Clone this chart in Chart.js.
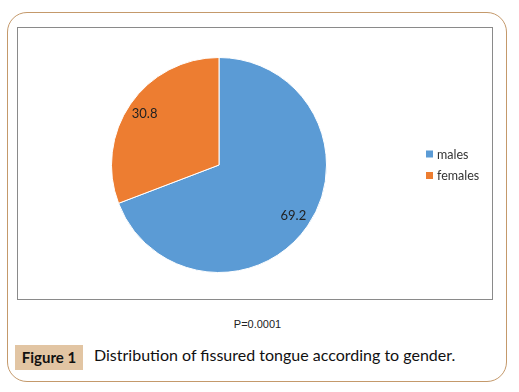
<!DOCTYPE html>
<html>
<head>
<meta charset="utf-8">
<script src="https://cdn.jsdelivr.net/npm/chart.js@4"></script>
<style>
  html, body { margin: 0; padding: 0; background: #fff; }
  #page { position: relative; width: 519px; height: 392px; background: #fff; overflow: hidden; }
  #outer { position: absolute; left: 7px; top: 12px; width: 498px; height: 368px; border: 1.5px solid #c4996b; border-radius: 20px; }
  #inner { position: absolute; left: 17px; top: 27px; width: 476px; height: 273px; border: 1px solid #8a8a8a; box-sizing: border-box; }
  #inner canvas { position: absolute; left: 0; top: 0; }
  #pval { position: absolute; left: 0; width: 515px; top: 318px; text-align: center; font: 11px "Liberation Sans", Arial, sans-serif; color: #222; }
  #figbox { position: absolute; left: 15px; top: 345px; width: 68px; height: 25px; background: #e2c5a3; font: bold 15px Lato, sans-serif; color: #111; line-height: 25px; text-align: center; }
  #figtext { position: absolute; left: 94px; top: 345px; height: 25px; line-height: 25px; font: 16px Lato, sans-serif; color: #111; }
</style>
</head>
<body>
<div id="page">
  <div id="outer"></div>
  <div id="inner"><canvas id="c" width="474" height="271"></canvas></div>
  <div id="pval">P=0.0001</div>
  <div id="figbox">Figure 1</div>
  <div id="figtext">Distribution of fissured tongue according to gender.</div>
</div>
<script>
const categories = ["males", "females"];
const values = [69.2, 30.8];
const colors = ["#5B9BD5", "#ED7D31"];

const overlay = {
  id: 'overlay',
  afterDatasetsDraw(chart) {
    const ctx = chart.ctx;
    const meta = chart.getDatasetMeta(0);
    ctx.save();
    ctx.font = '13px Lato, sans-serif';
    ctx.fillStyle = '#222';
    ctx.textAlign = 'center';
    ctx.textBaseline = 'middle';
    meta.data.forEach((arc, i) => {
      const p = arc.getProps(['x','y','startAngle','endAngle','outerRadius'], true);
      const mid = (p.startAngle + p.endAngle) / 2;
      const r = p.outerRadius * 0.84;
      ctx.fillText(String(values[i]), p.x + Math.cos(mid) * r, p.y + Math.sin(mid) * r);
    });
    // legend
    ctx.textAlign = 'left';
    ctx.font = '12.5px Lato, sans-serif';
    categories.forEach((c, i) => {
      const y = 126 + i * 21.5;
      ctx.fillStyle = colors[i];
      ctx.fillRect(408, y - 3.5, 7, 7);
      ctx.fillStyle = '#333';
      ctx.fillText(c, 419, y + 0.5);
    });
    ctx.restore();
  }
};

new Chart(document.getElementById('c'), {
  type: 'pie',
  data: {
    labels: categories,
    datasets: [{
      data: values,
      backgroundColor: colors,
      borderColor: '#ffffff',
      borderWidth: 1
    }]
  },
  options: {
    responsive: false,
    animation: false,
    layout: { padding: { left: 93, right: 165, top: 29, bottom: 26 } },
    plugins: { legend: { display: false }, tooltip: { enabled: false } }
  },
  plugins: [overlay]
});
</script>
</body>
</html>
